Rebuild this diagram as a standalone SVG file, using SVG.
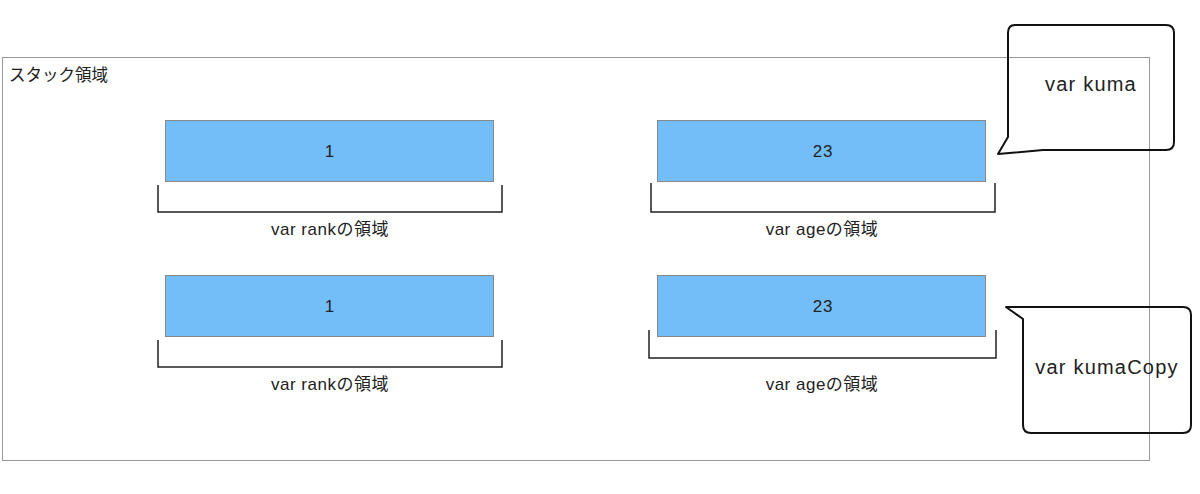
<svg xmlns="http://www.w3.org/2000/svg" width="1200" height="494" viewBox="0 0 1200 494">
<style>
text{font-family:"Liberation Sans","Noto Sans CJK JP",sans-serif;fill:#222;}
.area{fill:none;stroke:#999;stroke-width:1;}
.cell{fill:#73BEF8;stroke:#888;stroke-width:1;}
.val{font-size:17px;text-anchor:middle;letter-spacing:0.8px;}
.lbl{font-size:17px;text-anchor:middle;letter-spacing:0.5px;}
.brk{fill:none;stroke:#222;stroke-width:1.5;}
.bubble{fill:none;stroke:#111;stroke-width:2;stroke-linejoin:round;}
.btxt{font-size:20px;text-anchor:middle;letter-spacing:1.2px;}
</style>
<g id="stack">
<rect class="area" x="2.5" y="57.5" width="1147" height="403"/>
<text x="9" y="81" font-size="16.5">スタック領域</text>
</g>
<g id="rank1">
<rect class="cell" x="165.5" y="120.5" width="328" height="61"/>
<text class="val" x="330" y="157">1</text>
<path class="brk" d="M158,185V212H502V185"/>
<text class="lbl" x="330" y="235">var rankの領域</text>
</g>
<g id="age1">
<rect class="cell" x="657.5" y="120.5" width="328" height="61"/>
<text class="val" x="823" y="157">23</text>
<path class="brk" d="M651,183V212H995V183"/>
<text class="lbl" x="822" y="235">var ageの領域</text>
</g>
<g id="rank2">
<rect class="cell" x="165.5" y="275.5" width="328" height="61"/>
<text class="val" x="330" y="312">1</text>
<path class="brk" d="M158,340V367H502V340"/>
<text class="lbl" x="330" y="390">var rankの領域</text>
</g>
<g id="age2">
<rect class="cell" x="657.5" y="275.5" width="328" height="61"/>
<text class="val" x="823" y="312">23</text>
<path class="brk" d="M649,330V358H996V330"/>
<text class="lbl" x="822" y="390">var ageの領域</text>
</g>
<g id="kuma">
<path class="bubble" d="M1015,25H1166Q1174,25 1174,33V142Q1174,150 1166,150H1043L998,154L1008,137V33Q1008,25 1015,25Z"/>
<text class="btxt" x="1091" y="91">var kuma</text>
</g>
<g id="kumaCopy">
<path class="bubble" d="M1006,307H1183Q1191,307 1191,315V425Q1191,433 1183,433H1031Q1023,433 1023,425V319Z"/>
<text class="btxt" x="1107" y="374">var kumaCopy</text>
</g>
<g id="connectors"></g>
</svg>
